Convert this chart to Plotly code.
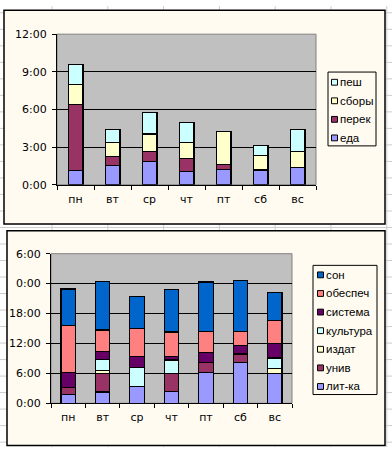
import plotly.graph_objects as go

W, H = 392, 454

days = ["пн", "вт", "ср", "чт", "пт", "сб", "вс"]

# Top chart (hours)
top_names = ["еда", "перек", "сборы", "пеш"]
eda = [1.11, 1.52, 1.88, 1.08, 1.24, 1.17, 1.35]
perek = [5.26, 0.75, 0.78, 1.03, 0.35, 0.0, 0.0]
sbory = [1.63, 1.08, 1.39, 1.26, 2.67, 1.15, 1.32]
pesh = [1.60, 1.06, 1.70, 1.57, 0.0, 0.78, 1.74]
top_colors = ["#9999FF", "#993366", "#FFFFCC", "#CCFFFF"]
top_ticks = [0, 3, 6, 9, 12]
top_ticktext = ["0:00", "3:00", "6:00", "9:00", "12:00"]

# Bottom chart (hours)
bot_names = ["лит-ка", "унив", "издат", "культура", "система", "обеспеч", "сон"]
litka = [1.70, 2.27, 3.38, 2.40, 6.17, 8.12, 6.04]
univ = [1.42, 3.70, 0.0, 3.50, 2.00, 1.60, 0.0]
izdat = [0.0, 0.65, 0.0, 0.0, 0.0, 0.20, 0.95]
kultura = [0.0, 2.15, 3.82, 2.80, 0.0, 0.0, 2.10]
sistema = [3.05, 1.68, 2.15, 0.65, 1.95, 1.60, 2.90]
obespech = [9.45, 4.23, 5.71, 4.95, 4.35, 2.92, 4.60]
son = [7.30, 9.67, 6.37, 8.50, 9.87, 10.26, 5.70]
bot_colors = ["#9999FF", "#993366", "#FFFFCC", "#CCFFFF", "#660066", "#FF8080", "#0066CC"]
bot_ticks = [0, 6, 12, 18, 24, 30]
bot_ticktext = ["0:00", "6:00", "12:00", "18:00", "0:00", "6:00"]

top_series = [eda, perek, sbory, pesh]
bot_series = [litka, univ, izdat, kultura, sistema, obespech, son]

FONT = "DejaVu Sans"
LEG_FONT = "Liberation Sans"


def px(x):
    return x / W


def py(y):
    return 1 - y / H


fig = go.Figure()

for name, vals, col in zip(top_names, top_series, top_colors):
    fig.add_trace(go.Bar(x=days, y=vals, name=name, marker_color=col,
                         marker_line_color="black", marker_line_width=1.2,
                         width=0.4, xaxis="x", yaxis="y", showlegend=False))
for name, vals, col in zip(bot_names, bot_series, bot_colors):
    fig.add_trace(go.Bar(x=days, y=vals, name=name, marker_color=col,
                         marker_line_color="black", marker_line_width=1.2,
                         width=0.42, xaxis="x2", yaxis="y2", showlegend=False))

shapes = []
# spreadsheet grid in background
for k in range(-1, 8):
    x = 52 + 55.8 * k
    shapes.append(dict(type="line", xref="paper", yref="paper", x0=px(x), x1=px(x), y0=0, y1=1,
                       line=dict(color="#CCCCCC", width=1), layer="below"))
for k in range(-1, 28):
    y = 7 + 17 * k
    shapes.append(dict(type="line", xref="paper", yref="paper", x0=0, x1=1, y0=py(y), y1=py(y),
                       line=dict(color="#CCCCCC", width=1), layer="below"))

# chart areas
for (x0, y0, x1, y1) in [(4, 4.5, 385, 224.5), (7, 231.5, 385, 452.5)]:
    shapes.append(dict(type="rect", xref="paper", yref="paper", x0=px(x0), x1=px(x1),
                       y0=py(y1), y1=py(y0), fillcolor="#FFFBF0",
                       line=dict(color="black", width=1.5), layer="below"))

# plot areas
for xr, yr in [("x domain", "y domain"), ("x2 domain", "y2 domain")]:
    shapes.append(dict(type="rect", xref=xr, yref=yr, x0=0, x1=1, y0=0, y1=1,
                       fillcolor="#C0C0C0", line=dict(color="#808080", width=1), layer="below"))

annotations = []


def add_legend(names, colors, box, first_y, step, sq_x, txt_x):
    bx0, by0, bx1, by1 = box
    shapes.append(dict(type="rect", xref="paper", yref="paper", x0=px(bx0), x1=px(bx1),
                       y0=py(by1), y1=py(by0), fillcolor="#FFFBF0",
                       line=dict(color="black", width=1), layer="above"))
    for i, (n, c) in enumerate(zip(names[::-1], colors[::-1])):
        yc = first_y + step * i
        shapes.append(dict(type="rect", xref="paper", yref="paper", x0=px(sq_x), x1=px(sq_x + 6),
                           y0=py(yc + 3), y1=py(yc - 3), fillcolor=c,
                           line=dict(color="black", width=1), layer="above"))
        annotations.append(dict(xref="paper", yref="paper", x=px(txt_x), y=py(yc), text=n,
                                showarrow=False, xanchor="left", yanchor="middle",
                                xshift=-1, font=dict(family=LEG_FONT, size=11.5, color="black")))


add_legend(top_names, top_colors, (328, 68, 376, 144), 78.5, 19.1, 331.5, 339)
add_legend(bot_names, bot_colors, (313, 267, 377, 400), 276.8, 19.15, 317.5, 325)

axis_common = dict(showline=True, linecolor="black", linewidth=1, ticks="outside",
                   ticklen=4, tickcolor="black", tickfont=dict(family=FONT, size=11, color="black"))

fig.update_layout(
    width=W, height=H,
    margin=dict(l=0, r=0, t=0, b=0),
    paper_bgcolor="white",
    plot_bgcolor="rgba(0,0,0,0)",
    barmode="stack",
    showlegend=False,
    hovermode=False,
    shapes=shapes,
    annotations=annotations,
    xaxis=dict(domain=[px(57), px(316)], anchor="y", type="category", tickson="boundaries",
               showgrid=False, ticklabelstandoff=4, **axis_common),
    yaxis=dict(domain=[py(184), py(29)], anchor="x", range=[0, 12], tickvals=top_ticks,
               ticktext=top_ticktext, showgrid=True, gridcolor="black", gridwidth=1,
               zeroline=False, ticklabelstandoff=3, **axis_common),
    xaxis2=dict(domain=[px(51), px(292)], anchor="y2", type="category", tickson="boundaries",
                showgrid=False, ticklabelstandoff=4, **axis_common),
    yaxis2=dict(domain=[py(409), py(255)], anchor="x2", range=[0, 30], tickvals=bot_ticks,
                ticktext=bot_ticktext, showgrid=True, gridcolor="black", gridwidth=1,
                zeroline=False, ticklabelstandoff=3, **axis_common),
)

fig.write_html("out.html",
               config={"displayModeBar": False, "staticPlot": True},
               post_script="document.body.style.margin='0';document.body.style.overflow='hidden';")
